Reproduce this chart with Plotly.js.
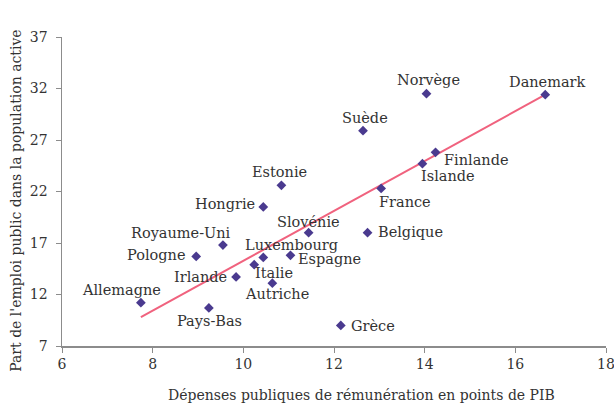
<!DOCTYPE html>
<html>
<head>
<meta charset="utf-8">
<script src="https://cdn.plot.ly/plotly-3.0.1.min.js"></script>
<style>html,body{margin:0;padding:0;background:#fff;}#chart{width:614px;height:403px;}</style>
</head>
<body>
<div id="chart"></div>
<script>
// ---- Data ----
const countries = ["Allemagne","Pays-Bas","Pologne","Royaume-Uni","Irlande","Hongrie","Estonie","Luxembourg","Italie","Autriche","Espagne","Slovénie","Grèce","Belgique","France","Islande","Finlande","Suède","Norvège","Danemark"];
const remuneration = [7.74, 9.24, 8.96, 9.55, 9.84, 10.44, 10.84, 10.44, 10.24, 10.64, 11.04, 11.44, 12.15, 12.74, 13.04, 13.95, 14.24, 12.64, 14.04, 16.66];
const emploiPublic = [11.2, 10.7, 15.7, 16.8, 13.7, 20.5, 22.6, 15.6, 14.9, 13.1, 15.8, 18.0, 9.0, 18.0, 22.3, 24.7, 25.8, 27.9, 31.5, 31.4];
const trendX = [7.74, 16.66];
const trendY = [9.8, 31.4];
const xTicks = [6, 8, 10, 12, 14, 16, 18];
const yTicks = [7, 12, 17, 22, 27, 32, 37];

// ---- Label placement (layout only): [anchor, xshift px, yshift px] ----
const labelPlacement = {
  "Allemagne": ["center", -19, 13],
  "Pays-Bas": ["center", 1, -13],
  "Pologne": ["right", -9, 1.5],
  "Royaume-Uni": ["center", -42, 12.5],
  "Irlande": ["right", -7, 0],
  "Hongrie": ["right", -6.5, 2.5],
  "Estonie": ["center", -1.5, 13],
  "Luxembourg": ["center", 28, 12.5],
  "Italie": ["center", 20, -8],
  "Autriche": ["center", 4.5, -11],
  "Espagne": ["left", 6, -4],
  "Slovénie": ["center", -0.5, 11],
  "Grèce": ["left", 8, -1],
  "Belgique": ["left", 8.5, 1],
  "France": ["left", -4.5, -13.5],
  "Islande": ["left", -3.5, -12.5],
  "Finlande": ["left", 6.5, -7.5],
  "Suède": ["center", 1.5, 13],
  "Norvège": ["center", 2, 13.3],
  "Danemark": ["center", 2.5, 12.5]
};

const FONT = "DejaVu Serif, Liberation Serif, serif";
const TEXT = "#333333";
const AXIS = "#8c8c8c";

const traces = [
  {
    x: trendX, y: trendY, type: "scatter", mode: "lines",
    line: {color: "#f0627e", width: 2}, hoverinfo: "skip", showlegend: false
  },
  {
    x: remuneration, y: emploiPublic, type: "scatter", mode: "markers",
    text: countries,
    marker: {symbol: "diamond", size: 7.5, color: "#4a3a8f"},
    showlegend: false
  }
];

const annotations = countries.map((c, i) => {
  const p = labelPlacement[c];
  return {
    x: remuneration[i], y: emploiPublic[i], xref: "x", yref: "y",
    text: c, showarrow: false, xanchor: p[0], yanchor: "middle",
    xshift: p[1], yshift: p[2],
    font: {family: FONT, size: 14.5, color: TEXT}
  };
});

annotations.push({
  text: "Dépenses publiques de rémunération en points de PIB",
  xref: "paper", yref: "paper", x: 0.551, y: 0, yshift: -49,
  xanchor: "center", yanchor: "middle", showarrow: false,
  font: {family: FONT, size: 14, color: TEXT}
});
annotations.push({
  text: "Part de l'emploi public dans la population active",
  xref: "paper", yref: "paper", x: 0, xshift: -46, y: 0.47,
  xanchor: "center", yanchor: "middle", showarrow: false, textangle: -90,
  font: {family: FONT, size: 14, color: TEXT}
});

const layout = {
  width: 614, height: 403,
  margin: {l: 62, r: 8, t: 37, b: 57, pad: 0},
  paper_bgcolor: "#ffffff", plot_bgcolor: "#ffffff",
  showlegend: false,
  xaxis: {
    range: [6, 18], tickvals: xTicks, ticktext: xTicks.map(String),
    showgrid: false, zeroline: false, showline: true, linecolor: AXIS, linewidth: 1.5,
    ticks: "outside", ticklen: 5, tickcolor: AXIS, tickwidth: 1,
    ticklabeloverflow: "allow",
    tickfont: {family: FONT, size: 14, color: TEXT}
  },
  yaxis: {
    range: [7, 37], tickvals: yTicks, ticktext: yTicks.map(String),
    showgrid: false, zeroline: false, showline: true, linecolor: AXIS, linewidth: 1.5,
    ticks: "outside", ticklen: 5, tickcolor: AXIS, tickwidth: 1,
    ticklabelstandoff: 5, ticklabeloverflow: "allow",
    tickfont: {family: FONT, size: 14, color: TEXT}
  },
  annotations: annotations
};

Plotly.newPlot("chart", traces, layout, {displayModeBar: false, staticPlot: true});
</script>
</body>
</html>
